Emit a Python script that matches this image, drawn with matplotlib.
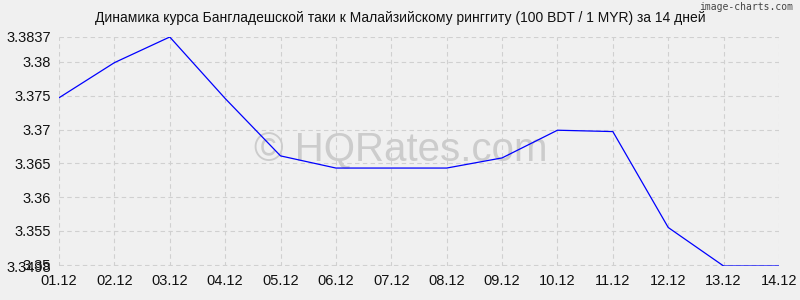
"""Курс BDT/MYR за 14 дней."""
import matplotlib
matplotlib.use('Agg')
import matplotlib.pyplot as plt

plt.rcParams['font.family'] = ['Liberation Sans', 'DejaVu Sans']

# Data
dates = ['01.12', '02.12', '03.12', '04.12', '05.12', '06.12', '07.12',
         '08.12', '09.12', '10.12', '11.12', '12.12', '13.12', '14.12']
rates = [3.3747, 3.3799, 3.3837, 3.3746, 3.3661, 3.3643, 3.3643,
         3.3643, 3.3658, 3.3699, 3.3697, 3.3555, 3.3498, 3.3498]
y_ticks = [3.3498, 3.35, 3.355, 3.36, 3.365, 3.37, 3.375, 3.38, 3.3837]
y_labels = ['3.3498', '3.35', '3.355', '3.36', '3.365', '3.37', '3.375', '3.38', '3.3837']

bg = '#f0f0f0'
fig = plt.figure(figsize=(8, 3), dpi=100, facecolor=bg)
ax = fig.add_axes([0.07375, 0.1133, 0.9, 0.7634], facecolor=bg)

x = list(range(len(dates)))
ax.plot(x, rates, color='#0000ff', linewidth=0.9, zorder=3)

ax.set_xlim(0, len(dates) - 1)
ax.set_ylim(min(rates), max(rates))
ax.set_xticks(x)
ax.set_xticklabels(dates)
ax.set_yticks(y_ticks)
ax.set_yticklabels(y_labels)
ax.tick_params(length=0, labelsize=10.5, colors='#111111', pad=6)

ax.grid(True, color='#d0d0d0', linestyle=(0, (4, 3)), linewidth=0.8)
for spine in ax.spines.values():
    spine.set_visible(False)

# Watermark
ax.text(0.474, 0.505, '\u00a9 HQRates.com', transform=ax.transAxes, fontsize=29,
        color='#cccccc', ha='center', va='center', zorder=2)

fig.text(0.5, 0.94, 'Динамика курса Бангладешской таки к Малайзийскому ринггиту (100 BDT / 1 MYR) за 14 дней',
         ha='center', va='center', fontsize=10, color='#111111')
fig.text(0.992, 0.975, 'image-charts.com', ha='right', va='center', fontsize=7,
         color='#444444', family='DejaVu Sans Mono')

plt.savefig('out.png', dpi=100, facecolor=bg)
plt.close(fig)
